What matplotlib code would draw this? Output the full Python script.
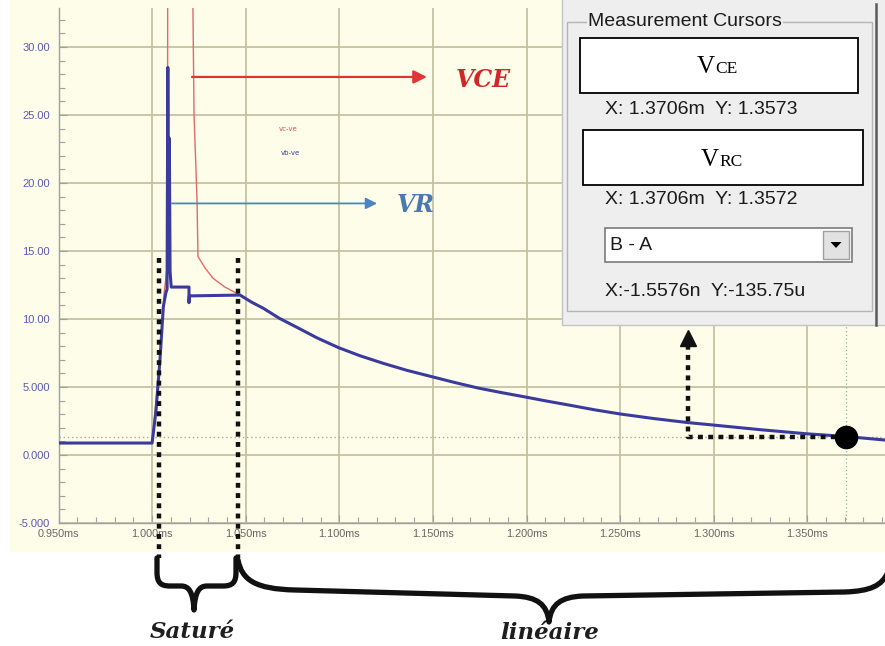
import numpy as np
import matplotlib
matplotlib.use("Agg")
import matplotlib.pyplot as plt
from matplotlib.transforms import Affine2D
from matplotlib.patches import Rectangle, PathPatch, Polygon
from matplotlib.path import Path
from matplotlib.ticker import MultipleLocator

# ---------------- data (time in ms, voltage in V) ----------------
t_decay = [1.0470, 1.0530, 1.0594, 1.0680, 1.0772, 1.0880, 1.0995, 1.1110,
           1.1235, 1.1360, 1.1494, 1.1620, 1.1743, 1.1870, 1.1992, 1.2110,
           1.2232, 1.2365, 1.2499, 1.2680, 1.2864, 1.3000, 1.3250, 1.3497,
           1.3706, 1.3915]
v_decay = [11.76, 11.25, 10.79, 10.05, 9.40, 8.62, 7.90, 7.30,
           6.74, 6.23, 5.76, 5.32, 4.92, 4.58, 4.27, 3.96,
           3.66, 3.32, 3.02, 2.68, 2.38, 2.20, 1.86, 1.56,
           1.36, 1.10]

t_vb_start = [0.950, 1.000, 1.0021, 1.0042, 1.0060, 1.0073, 1.0080, 1.0084,
              1.0088, 1.0092, 1.0096, 1.0102, 1.0197, 1.0197, 1.0199]
v_vb_start = [0.88, 0.88, 3.3, 7.0, 10.9, 11.9, 12.2, 28.5,
              17.0, 23.3, 13.5, 12.35, 12.35, 11.2, 11.7]

t_vc_start = [0.950, 1.000, 1.0042, 1.0065, 1.0082, 1.0084, 1.0209, 1.0224,
              1.0240, 1.0245, 1.0283, 1.0325, 1.0389]
v_vc_start = [0.88, 0.88, 7.0, 12.0, 14.0, 45.0, 45.0, 25.0,
              18.75, 14.6, 13.75, 13.0, 12.35]

x_ticks = [0.950, 1.000, 1.050, 1.100, 1.150, 1.200, 1.250, 1.300, 1.350]
x_labels = ["0.950ms", "1.000ms", "1.050ms", "1.100ms", "1.150ms",
            "1.200ms", "1.250ms", "1.300ms", "1.350ms"]
y_ticks = [-5, 0, 5, 10, 15, 20, 25, 30]
y_labels = ["-5.000", "0.000", "5.000", "10.00", "15.00", "20.00", "25.00", "30.00"]

cursor_t, cursor_v = 1.3706, 1.3573
region_bounds = [1.0035, 1.0459]
vce_arrow = (1.0213, 1.1468, 27.8)
vr_arrow = (1.0106, 1.1202, 18.5)

panel_lines = ["X: 1.3706m  Y: 1.3573", "X: 1.3706m  Y: 1.3572", "X:-1.5576n  Y:-135.75u"]

# ---------------- figure ----------------
W, H = 885, 646
fig = plt.figure(figsize=(W / 100, H / 100), dpi=100, facecolor="white")
PX = Affine2D().scale(1 / W, -1 / H).translate(0, 1) + fig.transFigure

YEL = "#FDFDEA"
fig.add_artist(Rectangle((10, 0), W - 10, 552, transform=PX, fc=YEL, ec="none", zorder=-5))

ax = fig.add_axes([58.5 / W, 1 - 523 / H, (W - 58.5) / W, (523 - 8) / H])
ax.set_facecolor(YEL)
ax.set_xlim(0.950, 1.3915)
ax.set_ylim(-5, 32.87)

ax.set_xticks(x_ticks)
ax.set_xticklabels(x_labels)
ax.set_yticks(y_ticks)
ax.set_yticklabels(y_labels)
ax.xaxis.set_minor_locator(MultipleLocator(0.01))
ax.yaxis.set_minor_locator(MultipleLocator(1))
ax.tick_params(axis="both", which="both", direction="in", color="#A0A0A0")
ax.tick_params(which="major", length=6, width=0.8)
ax.tick_params(which="minor", length=4, width=0.8)
ax.tick_params(axis="x", labelsize=7.8, labelcolor="#666666", pad=4)
ax.tick_params(axis="y", labelsize=8, labelcolor="#5A5AB4", pad=6)
for lab in ax.get_xticklabels() + ax.get_yticklabels():
    lab.set_family("Liberation Sans")
ax.grid(True, which="major", color="#C6C2A2", lw=1.3)
ax.set_axisbelow(True)
for s in ["top", "right"]:
    ax.spines[s].set_visible(False)
for s in ["left", "bottom"]:
    ax.spines[s].set_color("#A0A0A0")
    ax.spines[s].set_linewidth(1)

# cursor lines
ax.axvline(cursor_t, color="#97B097", lw=0.9, ls=(0, (1, 2)), zorder=1.5)
ax.axhline(cursor_v, color="#A0B098", lw=1.0, ls=(0, (1, 2)), zorder=1.5)

# curves
t_red = t_vc_start + t_decay
v_red = v_vc_start + v_decay
t_blu = t_vb_start + t_decay
v_blu = v_vb_start + v_decay
ax.plot(t_red, v_red, color="#E26A6A", lw=1.0, zorder=3)
ax.plot(t_blu, v_blu, color="#3B3B9E", lw=2.2, zorder=4, solid_joinstyle="round")

# legend-like labels
ax.text(1.0728, 24.0, "vc-ve", color="#E05050", fontsize=5, ha="center", va="center")
ax.text(1.0738, 22.2, "vb-ve", color="#3B3B9E", fontsize=5, ha="center", va="center")

# annotation arrows
ax.annotate("", xy=(vce_arrow[1], vce_arrow[2]), xytext=(vce_arrow[0], vce_arrow[2]),
            arrowprops=dict(arrowstyle="-|>", color="#E03535", lw=1.6, mutation_scale=20,
                            shrinkA=0, shrinkB=0), zorder=5)
ax.text(1.1768, 27.6, "VCE", color="#D02828", fontsize=17, fontweight="bold",
        fontstyle="italic", family="DejaVu Serif", ha="center", va="center")
ax.annotate("", xy=(vr_arrow[1], vr_arrow[2]), xytext=(vr_arrow[0], vr_arrow[2]),
            arrowprops=dict(arrowstyle="-|>", color="#4A86C5", lw=1.3, mutation_scale=17,
                            shrinkA=0, shrinkB=0), zorder=5)
ax.text(1.1410, 18.4, "VR", color="#4A78B0", fontsize=17, fontweight="bold",
        fontstyle="italic", family="DejaVu Serif", ha="center", va="center")

# region boundaries (dotted, extend below axes)
for xb in region_bounds:
    ax.plot([xb, xb], [14.5, -7.6], color="#111111", lw=3.2, ls=(0, (1.1, 1.2)),
            clip_on=False, zorder=6, solid_capstyle="butt", dash_capstyle="butt")

# cursor marker with dotted leader
x_turn = 1.2864
ax.plot([cursor_t, x_turn, x_turn], [cursor_v, cursor_v, 8.1], color="#111111", lw=3.2,
        ls=(0, (1.1, 1.2)), zorder=6, dash_capstyle="butt")
ax.plot([x_turn], [8.6], marker="^", ms=11, color="#111111", zorder=6, clip_on=False)
ax.plot([cursor_t], [cursor_v], marker="o", ms=16, color="black", zorder=7)

# ---------------- measurement panel ----------------
def prect(x0, y0, x1, y1, **kw):
    fig.add_artist(Rectangle((x0, y0), x1 - x0, y1 - y0, transform=PX, **kw))

prect(562, -2, 890, 325, fc="#EEEEEE", ec="#C4C4C4", lw=1, zorder=10)
prect(567, 22, 872, 311, fc="none", ec="#B4B4B4", lw=1, zorder=11)
fig.add_artist(plt.Line2D([876, 876], [4, 325], transform=PX, color="#5A5A5A", lw=1.8, zorder=11))
fig.text(588, 22, "Measurement Cursors", transform=PX, fontsize=14, family="Liberation Sans",
         color="#1A1A1A", ha="left", va="center", zorder=12,
         bbox=dict(fc="#EEEEEE", ec="none", pad=1))

prect(580, 38, 858, 93, fc="white", ec="black", lw=1.3, zorder=11)
prect(583, 130, 863, 185, fc="white", ec="black", lw=1.3, zorder=11)
fig.text(715, 73, "V", transform=PX, fontsize=18, family="Liberation Serif", ha="right",
         va="baseline", zorder=12)
fig.text(715, 73, "CE", transform=PX, fontsize=12.5, family="Liberation Serif", ha="left",
         va="baseline", zorder=12)
fig.text(719, 166, "V", transform=PX, fontsize=18, family="Liberation Serif", ha="right",
         va="baseline", zorder=12)
fig.text(719, 166, "RC", transform=PX, fontsize=12.5, family="Liberation Serif", ha="left",
         va="baseline", zorder=12)

for yy, s in zip([110, 200, 292], panel_lines):
    fig.text(605, yy, s, transform=PX, fontsize=14, family="Liberation Sans",
             color="#1A1A1A", ha="left", va="center", zorder=12)

prect(605, 228, 852, 262, fc="white", ec="#7A7A7A", lw=1.2, zorder=11)
prect(823, 231, 849, 259, fc="#E2E2E2", ec="#A0A0A0", lw=1, zorder=12)
fig.add_artist(Polygon([(830.5, 242), (841.5, 242), (836, 248)], closed=True,
                       transform=PX, fc="black", ec="none", zorder=13))
fig.text(610, 245, "B - A", transform=PX, fontsize=14, family="Liberation Sans",
         color="#1A1A1A", ha="left", va="center", zorder=12)

# ---------------- braces and region names ----------------
M, L, C = Path.MOVETO, Path.LINETO, Path.CURVE4
sat = [(157, 558), (157, 572), (157, 582), (160, 586), (170, 586), (181, 586),
       (189, 586), (193, 592), (194, 610), (195, 592), (199, 586), (207, 586),
       (223, 586), (233, 586), (236, 582), (236, 572), (236, 558)]
sat_codes = [M, L, C, C, C, L, C, C, C, C, C, C, L, C, C, C, L]
lin = [(238, 560), (242, 580), (255, 589), (295, 590), (515, 596),
       (537, 597), (547, 604), (549, 622), (551, 604), (561, 597), (583, 596),
       (845, 592), (870, 591), (882, 586), (888, 572)]
lin_codes = [M, C, C, C, L, C, C, C, C, C, C, L, C, C, C]
for verts, codes in [(sat, sat_codes), (lin, lin_codes)]:
    fig.add_artist(PathPatch(Path(verts, codes), transform=PX, fc="none", ec="#111111",
                             lw=3.8, capstyle="round", joinstyle="round", zorder=8))

fig.text(192, 632, "Saturé", transform=PX, fontsize=16.5, fontweight="bold",
         fontstyle="italic", family="DejaVu Serif", color="#1E1E1E", ha="center", va="center")
fig.text(550, 633, "linéaire", transform=PX, fontsize=16.5, fontweight="bold",
         fontstyle="italic", family="DejaVu Serif", color="#1E1E1E", ha="center", va="center")

fig.savefig("out.png", dpi=100, facecolor="white")
